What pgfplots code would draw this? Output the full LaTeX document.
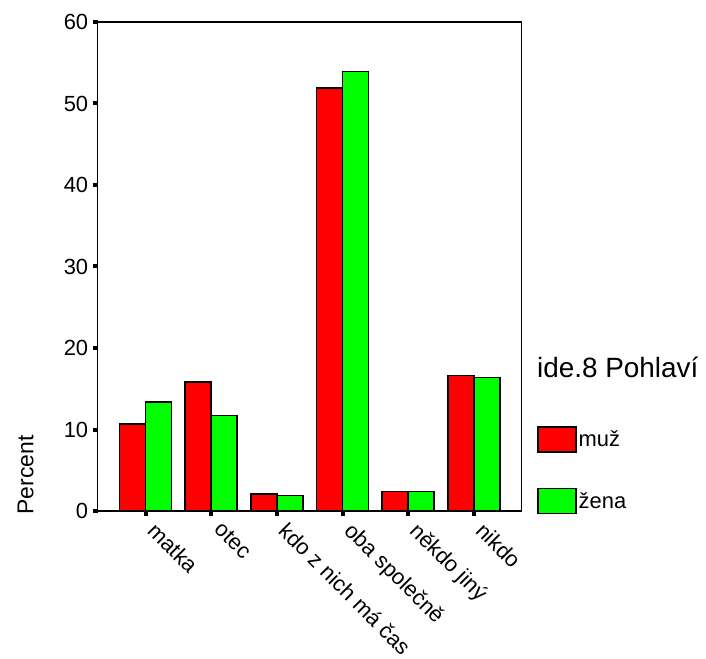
\documentclass[border=0pt]{standalone}
\usepackage{fontspec}
\setmainfont{Liberation Sans}
\usepackage{pgfplots}
\pgfplotsset{compat=1.18}
\definecolor{barred}{RGB}{255,0,0}
\definecolor{bargreen}{RGB}{0,255,0}
\begin{document}
\begin{tikzpicture}
\path[use as bounding box] (-97.7bp,-148bp) rectangle (608.3bp,511bp);
\begin{axis}[
  at={(0,0)}, anchor=south west,
  scale only axis,
  width=424bp, height=489bp,
  ybar=0pt, bar width=26bp,
  xmin=-0.73, xmax=5.73,
  ymin=0, ymax=60,
  xtick=data,
  xticklabels={matka,otec,kdo z nich má čas,oba společně,někdo jiný,nikdo},
  ytick={0,10,20,30,40,50,60},
  xtick pos=left, ytick pos=left,
  tick align=outside,
  major tick length=5bp,
  tick style={black, line width=4bp},
  xtick style={black, line width=4bp},
  ytick style={black, line width=4bp},
  axis line style={line width=1.5bp},
  /pgf/number format/assume math mode=true,
  tick label style={font=\fontsize{22}{24}\selectfont},
  yticklabel style={xshift=-1bp},
  xticklabel style={xshift=12bp, yshift=0bp, rotate=-45, anchor=north west},
  ylabel={Percent},
  ylabel style={font=\fontsize{23}{26}\selectfont, at={(axis description cs:-0.170,0.074)}, anchor=center},
  legend style={at={(axis description cs:1.036,0.174)}, anchor=north west, draw=none, fill=none,
    font=\fontsize{22}{24}\selectfont, inner sep=0pt, row sep=35bp,
    nodes={inner sep=2bp}},
  legend cell align=left,
  legend image code/.code={\draw[#1,draw=black,line width=1.5bp] (0bp,-12.5bp) rectangle (38bp,12.5bp);},
  clip=false,
]
\addplot[fill=barred, draw=black, line width=1.5bp] coordinates {(0,10.7) (1,15.8) (2,2.1) (3,51.9) (4,2.4) (5,16.6)};
\addplot[fill=bargreen, draw=black, line width=1.5bp] coordinates {(0,13.4) (1,11.7) (2,1.9) (3,53.9) (4,2.4) (5,16.4)};
\legend{muž,žena}
\node[anchor=west, font=\fontsize{28}{30}\selectfont, inner sep=0pt] at (axis description cs:1.036,0.294) {ide.8 Pohlaví};
\end{axis}
\end{tikzpicture}
\end{document}
